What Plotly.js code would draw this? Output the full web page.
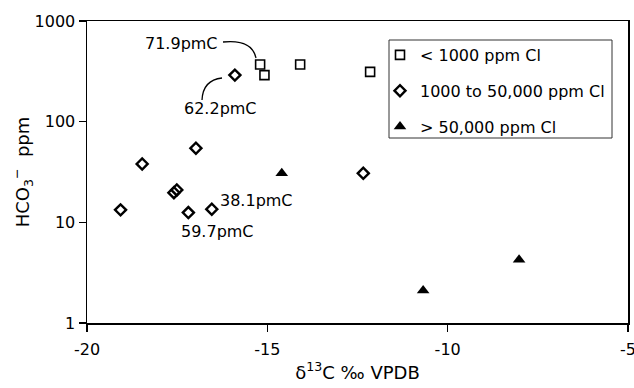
<!DOCTYPE html>
<html>
<head>
<meta charset="utf-8">
<script src="https://cdn.plot.ly/plotly-3.0.1.min.js"></script>
<style>html,body{margin:0;padding:0;background:#fff;}#chart{width:634px;height:388px;}</style>
</head>
<body>
<div id="chart"></div>
<script>
// Data
const lowClX = [-15.20, -15.08, -14.09, -12.15];
const lowClY = [370, 290, 370, 312];
const midClX = [-15.90, -16.98, -18.47, -17.51, -17.59, -19.07, -17.19, -16.54, -12.34];
const midClY = [290, 54.5, 38, 21, 19.7, 13.3, 12.5, 13.5, 30.7];
const highClX = [-14.60, -8.02, -10.68];
const highClY = [30.7, 4.24, 2.10];
const seriesNames = ["< 1000 ppm Cl", "1000 to 50,000 ppm Cl", "> 50,000 ppm Cl"];
const xTicks = [-20, -15, -10, -5];
const yTicks = [1, 10, 100, 1000];
const labels = ["71.9pmC", "62.2pmC", "38.1pmC", "59.7pmC"];

const FONT = "DejaVu Sans, Arial, sans-serif";

const traces = [
  {x: lowClX, y: lowClY, name: seriesNames[0], mode: "markers", type: "scatter", legendgroup: "a",
   marker: {symbol: "square-open", size: 9, color: "#000", line: {width: 1.6, color: "#000"}}},
  {x: midClX, y: midClY, name: seriesNames[1], mode: "markers", type: "scatter", legendgroup: "b",
   marker: {symbol: "diamond-open", size: 8.5, color: "#000", line: {width: 2.4, color: "#000"}}},
  {x: highClX, y: highClY, name: seriesNames[2], mode: "markers", type: "scatter", legendgroup: "c",
   marker: {symbol: "triangle-up", size: 11, color: "#000", line: {width: 0}}}
];

// plot area: x 87..628, y 21..323
const L = 87, R = 628, T = 21, B = 323;
const px = v => (v - L) / (R - L);
const py = v => (B - v) / (B - T);

const ann = (t, x, y) => ({text: t, xref: "paper", yref: "paper", x: px(x), y: py(y),
  xanchor: "center", yanchor: "middle", showarrow: false, font: {family: FONT, size: 16}});

const layout = {
  width: 634, height: 388,
  margin: {l: L, r: 634 - R, t: T, b: 388 - B},
  paper_bgcolor: "#fff", plot_bgcolor: "#fff",
  font: {family: FONT, color: "#000", size: 16},
  showlegend: true,
  legend: {x: px(380), y: py(38), xanchor: "left", yanchor: "top",
           bgcolor: "rgba(0,0,0,0)", borderwidth: 0, tracegroupgap: 12,
           font: {family: FONT, size: 16, color: "#000"}},
  xaxis: {range: [-20, -5], tickvals: xTicks, ticktext: xTicks.map(String),
          showgrid: false, zeroline: false, showline: true, linecolor: "#000", linewidth: 1.5,
          mirror: true, ticks: "outside", ticklen: 7, tickwidth: 1.3, tickcolor: "#000",
          ticklabeloverflow: "allow", ticklabelstandoff: 4,
          tickfont: {family: FONT, size: 16},
          title: {text: "δ<sup>13</sup>C ‰ VPDB", font: {family: FONT, size: 18}, standoff: 8}},
  yaxis: {type: "log", range: [0, 3], tickvals: yTicks, ticktext: yTicks.map(String),
          showgrid: false, zeroline: false, showline: true, linecolor: "#000", linewidth: 1.5,
          mirror: true, ticks: "outside", ticklen: 7, tickwidth: 1.3, tickcolor: "#000",
          tickfont: {family: FONT, size: 16},
          title: {text: "HCO<sub>3</sub><sup>−</sup>  ppm", font: {family: FONT, size: 18}, standoff: 0}},
  shapes: [
    {type: "rect", xref: "paper", yref: "paper", x0: px(389), x1: px(612), y0: py(138), y1: py(40),
     line: {color: "#333", width: 1}},
    {type: "path", xref: "paper", yref: "paper",
     path: `M ${px(223)},${py(42)} Q ${px(252)},${py(39)} ${px(256)},${py(58)}`,
     line: {color: "#000", width: 1.3}},
    {type: "path", xref: "paper", yref: "paper",
     path: `M ${px(202)},${py(100)} Q ${px(203)},${py(80)} ${px(222)},${py(78)}`,
     line: {color: "#000", width: 1.3}}
  ],
  annotations: [
    ann(labels[0], 181, 43),
    ann(labels[1], 220, 108),
    ann(labels[2], 256, 200),
    ann(labels[3], 217, 231)
  ]
};

Plotly.newPlot("chart", traces, layout, {displayModeBar: false, staticPlot: true});
</script>
</body>
</html>
